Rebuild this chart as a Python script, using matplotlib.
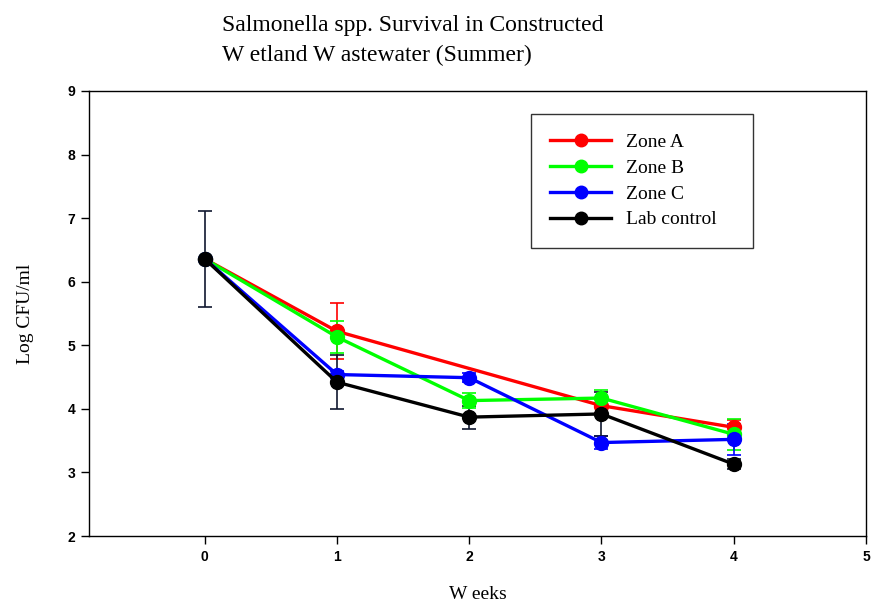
import matplotlib
matplotlib.use("Agg")
import matplotlib.pyplot as plt
from matplotlib.lines import Line2D

weeks = [0, 1, 2, 3, 4]
zone_a_weeks = [0, 1, 3, 4]
zone_a = [6.36, 5.22, 4.05, 3.71]
zone_a_err = [0.0, 0.44, 0.12, 0.12]
zone_b = [6.36, 5.13, 4.13, 4.17, 3.60]
zone_b_err = [0.0, 0.25, 0.12, 0.12, 0.24]
zone_c = [6.36, 4.54, 4.49, 3.47, 3.52]
zone_c_err = [0.0, 0.06, 0.07, 0.10, 0.24]
lab = [6.36, 4.42, 3.87, 3.92, 3.13]
lab_err = [0.76, 0.42, 0.18, 0.35, 0.08]

labels = ["Zone A", "Zone B", "Zone C", "Lab control"]
colors = ["#ff0000", "#00ff00", "#0000ff", "#000000"]
ecolors = ["#ff0000", "#00ff00", "#0000ff", "#101830"]

fig = plt.figure(figsize=(8.74, 6.09), dpi=100)
ax = fig.add_axes([89/874, 1-536/609, (866-89)/874, (536-91)/609])

series = [(zone_a_weeks, zone_a, zone_a_err), (weeks, zone_b, zone_b_err),
          (weeks, zone_c, zone_c_err), (weeks, lab, lab_err)]
handles = []
for (xs, vals, errs), lab_, c, ec in zip(series, labels, colors, ecolors):
    ax.errorbar(xs, vals, yerr=errs, color=c, ecolor=ec, elinewidth=1.2,
                capsize=5, capthick=1.2, lw=2.4, marker="o", ms=10)
    handles.append(Line2D([], [], color=c, lw=2.4, marker="o", ms=9, label=lab_))

ax.set_xlim(-0.875, 5)
ax.set_ylim(2, 9)
ax.set_xticks([0, 1, 2, 3, 4, 5])
ax.set_yticks([2, 3, 4, 5, 6, 7, 8, 9])
for lbl in ax.get_xticklabels() + ax.get_yticklabels():
    lbl.set_fontfamily("Liberation Sans")
    lbl.set_fontweight("bold")
    lbl.set_fontsize(10)
ax.tick_params(direction="out", length=6, width=1, pad=4)
for s in ax.spines.values():
    s.set_linewidth(1)

serif = "Liberation Serif"
ax.set_xlabel("W eeks", fontfamily=serif, fontsize=14, labelpad=16)
ax.set_ylabel("Log CFU/ml", fontfamily=serif, fontsize=14, labelpad=24)
fig.text(222/874, 1-25/609, "Salmonella spp. Survival in Constructed", fontfamily=serif,
         fontsize=17, va="center", ha="left")
fig.text(222/874, 1-55/609, "W etland W astewater (Summer)", fontfamily=serif,
         fontsize=17, va="center", ha="left")

x0 = (531-89)/777
w = (753-531)/777
ytop = 1-(114-91)/445
h = (243-114)/445
leg = ax.legend(handles=handles, loc="upper left", bbox_to_anchor=(x0, ytop-h, w, h),
                mode="expand", prop={"family": serif, "size": 14}, frameon=True,
                fancybox=False, edgecolor="black", handlelength=3.1, borderpad=1.0,
                labelspacing=0.42, handletextpad=0.8, borderaxespad=0)
leg.get_frame().set_linewidth(1)

fig.savefig("out.png", dpi=100)
